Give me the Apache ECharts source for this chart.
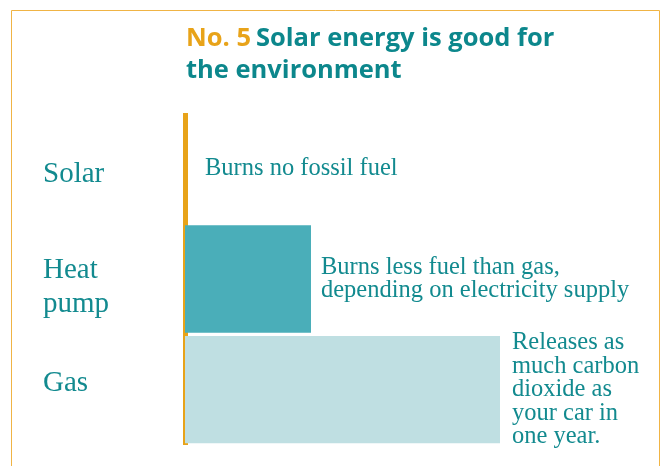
<!DOCTYPE html>
<html>
<head>
<meta charset="utf-8">
<script src="https://cdn.jsdelivr.net/npm/echarts@6/dist/echarts.min.js"></script>
<style>
    html, body { margin: 0; padding: 0; background: #fff; }
    #chart { width: 662px; height: 466px; }
</style>
</head>
<body>
<div id="chart"></div>
<script>
var categories = ['Solar', 'Heat\npump', 'Gas'];
var fuelBurned = [0, 4, 10];
var notes = [
    'Burns no fossil fuel',
    'Burns less fuel than gas,\ndepending on electricity supply',
    'Releases as\nmuch carbon\ndioxide as\nyour car in\none year.'
];

var teal = '#128a8f';
var orange = '#e8a319';
var barColors = ['#4aaeb9', '#4aaeb9', '#bfdfe2'];
var noteGap = [20, 10, 12];

var chart = echarts.init(document.getElementById('chart'));

var catFont = { color: teal, fontFamily: 'Liberation Serif', fontSize: 29, lineHeight: 34 };
// padding nudges each category name a little off the band centre, like the original
var catRich = {
    c0: Object.assign({ padding: [13, 0, 0, 0] }, catFont),
    c1: Object.assign({ padding: [16, 0, 0, 0] }, catFont),
    c2: Object.assign({ padding: [0, 0, 12, 0] }, catFont)
};

var option = {
    backgroundColor: '#fff',
    animation: false,
    graphic: [{
        type: 'rect',
        shape: { x: 11.5, y: 10.5, width: 648, height: 480 },
        style: { fill: 'none', stroke: '#f0b445', lineWidth: 1 },
        silent: true
    }],
    title: {
        left: 181,
        top: 18,
        text: '{o|No. 5} {t|Solar energy is good for}\n{t|the environment}',
        textStyle: {
            rich: {
                o: { color: orange, fontFamily: 'Open Sans', fontWeight: 'bold', fontSize: 25.5, lineHeight: 32 },
                t: { color: '#0c878c', fontFamily: 'Open Sans', fontWeight: 'bold', fontSize: 25.5, lineHeight: 32 }
            }
        }
    },
    grid: { left: 185, top: 113, bottom: 21, width: 315, outerBoundsMode: 'none', containLabel: false },
    xAxis: { type: 'value', min: 0, max: 10, show: false },
    yAxis: {
        type: 'category',
        inverse: true,
        offset: 2.5,
        data: categories,
        axisLine: { show: true, lineStyle: { color: orange, width: 5, cap: 'butt' } },
        axisTick: { show: false },
        splitLine: { show: false },
        axisLabel: Object.assign({
            margin: 139.5,
            align: 'left',
            formatter: function (v, i) {
                return v.split('\n').map(function (l) {
                    return '{c' + i + '|' + l + '}';
                }).join('\n');
            },
            rich: catRich
        }, catFont)
    },
    series: [{
        type: 'bar',
        barCategoryGap: '3%',
        data: fuelBurned.map(function (v, i) {
            return {
                value: v,
                itemStyle: { color: barColors[i] },
                label: { distance: noteGap[i] }
            };
        }),
        label: {
            show: true,
            position: 'right',
            formatter: function (p) { return notes[p.dataIndex]; },
            color: teal,
            fontFamily: 'Liberation Serif',
            fontSize: 24.5,
            lineHeight: 23.5
        }
    }]
};

chart.setOption(option);
</script>
</body>
</html>
